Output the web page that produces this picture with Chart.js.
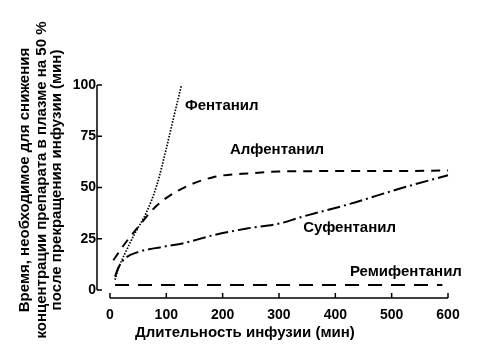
<!DOCTYPE html>
<html><head><meta charset="utf-8">
<script src="https://cdn.jsdelivr.net/npm/chart.js@4"></script>
<style>html,body{margin:0;padding:0;background:#fff}</style>
</head><body>
<div style="width:488px;height:364px;position:relative"><canvas id="c" width="488" height="364"></canvas></div>
<script>
// ---- data ----
const xTicks = [0, 100, 200, 300, 400, 500, 600];
const yTicks = [0, 25, 50, 75, 100];

const fentanylT = [9, 15, 27, 44, 65, 83, 100, 112, 127];
const fentanylV = [5, 10.5, 18, 27.5, 38, 51, 69, 83, 100];

const alfentanilT = [6, 27, 50, 80, 121, 183, 254, 300, 400, 500, 600];
const alfentanilV = [14.5, 22.8, 30.7, 40.4, 48.5, 55, 57, 57.8, 58, 58, 58.3];

const sufentanilT = [9, 15, 27, 50, 92, 133, 183, 243, 302, 337, 426, 515, 600];
const sufentanilV = [6.5, 11, 15.5, 18.5, 21, 23, 26.7, 30, 32.5, 35.4, 42, 49.5, 56];

const remifentanilT = [9, 100, 200, 300, 400, 500, 590];
const remifentanilV = [2.5, 2.5, 2.5, 2.5, 2.5, 2.5, 2.5];

const seriesNames = ['Фентанил', 'Алфентанил', 'Суфентанил', 'Ремифентанил'];
const xTitle = 'Длительность инфузии (мин)';
const yTitle = ['Время, необходимое для снижения',
                'концентрации препарата в плазме на 50 %',
                'после прекращения инфузии (мин)'];

// label anchors in data units (left edge, vertical middle)
const labelAnchors = [
  {x: 133, y: 89.8},
  {x: 213, y: 68.3},
  {x: 343, y: 30.2},
  {x: 426, y: 8.8}
];

const pts = (t, v) => t.map((x, i) => ({x, y: v[i]}));
const FONT = '"Liberation Sans", Arial, sans-serif';

const axesPlugin = {
  id: 'axesPlugin',
  afterDraw(chart) {
    const {ctx, chartArea: a, scales: {x, y}} = chart;
    ctx.save();
    ctx.strokeStyle = '#000';
    ctx.lineWidth = 1.5;
    // y axis line and inward ticks
    const y0 = y.getPixelForValue(0), y1 = y.getPixelForValue(100);
    ctx.beginPath();
    ctx.moveTo(a.left, y0); ctx.lineTo(a.left, y1);
    yTicks.forEach(v => { const p = y.getPixelForValue(v); ctx.moveTo(a.left, p); ctx.lineTo(a.left + 5, p); });
    // x axis line and upward ticks
    const x0 = x.getPixelForValue(0), x1 = x.getPixelForValue(600);
    ctx.moveTo(x0, a.bottom); ctx.lineTo(x1, a.bottom);
    xTicks.forEach(v => { const p = x.getPixelForValue(v); ctx.moveTo(p, a.bottom); ctx.lineTo(p, a.bottom - 5); });
    ctx.stroke();

    ctx.fillStyle = '#000';
    ctx.font = 'bold 15px ' + FONT;
    ctx.textBaseline = 'middle';
    ctx.textAlign = 'left';
    seriesNames.forEach((n, i) => {
      ctx.fillText(n, x.getPixelForValue(labelAnchors[i].x), y.getPixelForValue(labelAnchors[i].y));
    });
    // x title
    ctx.fillText(xTitle, 135, 333);
    // y title (rotated, centred lines)
    ctx.textAlign = 'center';
    ctx.translate(0, 180);
    ctx.rotate(-Math.PI / 2);
    const cols = [25, 41.5, 57];
    yTitle.forEach((t, i) => ctx.fillText(t, 0, cols[i]));
    ctx.restore();
  }
};

new Chart(document.getElementById('c'), {
  type: 'line',
  data: {
    datasets: [
      {label: seriesNames[0], data: pts(fentanylT, fentanylV), borderColor: '#000', borderWidth: 1.7, borderDash: [1.5, 1.5]},
      {label: seriesNames[1], data: pts(alfentanilT, alfentanilV), borderColor: '#000', borderWidth: 2, borderDash: [9, 7]},
      {label: seriesNames[2], data: pts(sufentanilT, sufentanilV), borderColor: '#000', borderWidth: 2, borderDash: [13, 4, 2, 4]},
      {label: seriesNames[3], data: pts(remifentanilT, remifentanilV), borderColor: '#000', borderWidth: 2, borderDash: [14, 9]}
    ]
  },
  options: {
    responsive: false,
    animation: false,
    devicePixelRatio: 1,
    layout: {padding: {left: 0, right: 40, top: 85, bottom: 0}},
    elements: {point: {radius: 0}, line: {cubicInterpolationMode: 'monotone', fill: false}},
    datasets: {line: {clip: false}},
    plugins: {legend: {display: false}, tooltip: {enabled: false}},
    scales: {
      x: {
        type: 'linear', min: -23, max: 600,
        afterBuildTicks: s => { s.ticks = xTicks.map(v => ({value: v})); },
        afterFit: s => { s.height = 66; },
        grid: {display: false, drawTicks: false},
        border: {display: false},
        ticks: {color: '#000', font: {family: FONT, size: 14, weight: 'bold'}, padding: 9, maxRotation: 0, autoSkip: false}
      },
      y: {
        type: 'linear', min: -3.9, max: 100,
        afterBuildTicks: s => { s.ticks = yTicks.map(v => ({value: v})); },
        afterFit: s => { s.width = 97; },
        grid: {display: false, drawTicks: false},
        border: {display: false},
        ticks: {color: '#000', font: {family: FONT, size: 14, weight: 'bold'}, padding: 1, autoSkip: false}
      }
    }
  },
  plugins: [axesPlugin]
});
</script>
</body></html>
